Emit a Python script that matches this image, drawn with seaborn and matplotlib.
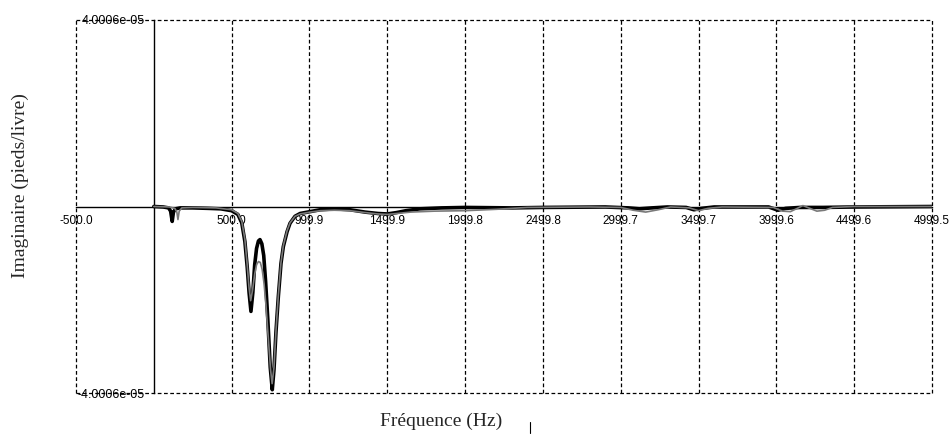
import matplotlib
matplotlib.use("Agg")
import matplotlib.pyplot as plt
import pandas as pd
import seaborn as sns
from matplotlib.lines import Line2D

# Imaginary part of the frequency response, measured curve (Hz, ft/lb)
freq_a = [0, 60, 95, 108, 118, 126, 140, 170, 250, 350, 430, 500, 540, 565,
          585, 600, 612, 624, 636, 648, 660, 672, 682, 694, 706, 718, 732,
          748, 761, 772, 785, 800, 817, 832, 856, 875, 907, 940, 1004, 1068,
          1164, 1260, 1357, 1440, 1500, 1560, 1620, 1710, 1850, 2000, 2300,
          2500, 2900, 3050, 3120, 3200, 3300, 3420, 3470, 3520, 3600, 3950,
          4010, 4060, 4150, 4300, 4500, 4999.5]
imag_a = [0, -0.01e-05, -0.03e-05, -0.10e-05, -0.32e-05, -0.12e-05,
          -0.05e-05, -0.03e-05, -0.03e-05, -0.04e-05, -0.05e-05, -0.09e-05,
          -0.17e-05, -0.35e-05, -0.75e-05, -1.30e-05, -1.85e-05, -2.25e-05,
          -1.85e-05, -1.25e-05, -0.90e-05, -0.74e-05, -0.71e-05, -0.80e-05,
          -1.05e-05, -1.60e-05, -2.40e-05, -3.45e-05, -3.93e-05, -3.50e-05,
          -2.68e-05, -1.93e-05, -1.22e-05, -0.86e-05, -0.54e-05, -0.36e-05,
          -0.21e-05, -0.15e-05, -0.11e-05, -0.07e-05, -0.05e-05, -0.07e-05,
          -0.12e-05, -0.15e-05, -0.16e-05, -0.13e-05, -0.09e-05, -0.05e-05,
          -0.03e-05, -0.02e-05, -0.03e-05, -0.02e-05, -0.01e-05, -0.03e-05,
          -0.05e-05, -0.03e-05, -0.01e-05, -0.02e-05, -0.07e-05, -0.04e-05,
          -0.01e-05, -0.01e-05, -0.08e-05, -0.04e-05, -0.02e-05, -0.02e-05,
          -0.01e-05, 0]

# Imaginary part, second (synthesised) curve
freq_b = [0, 100, 135, 148, 155, 163, 180, 250, 400, 500, 540, 565, 585, 600,
          612, 622, 634, 648, 660, 672, 684, 696, 708, 720, 735, 750, 760,
          772, 785, 800, 817, 832, 856, 875, 907, 940, 1004, 1070, 1160, 1260,
          1357, 1440, 1500, 1560, 1650, 1800, 2000, 2200, 2400, 2800, 3000,
          3080, 3160, 3240, 3320, 3440, 3500, 3560, 3650, 3980, 4040, 4090,
          4140, 4170, 4200, 4260, 4310, 4360, 4500, 4999.5]
imag_b = [0, -0.01e-05, -0.04e-05, -0.12e-05, -0.28e-05, -0.10e-05,
          -0.03e-05, -0.02e-05, -0.03e-05, -0.07e-05, -0.15e-05, -0.32e-05,
          -0.70e-05, -1.25e-05, -1.75e-05, -2.02e-05, -1.80e-05, -1.45e-05,
          -1.25e-05, -1.18e-05, -1.20e-05, -1.35e-05, -1.65e-05, -2.10e-05,
          -2.80e-05, -3.50e-05, -3.80e-05, -3.45e-05, -2.65e-05, -1.90e-05,
          -1.20e-05, -0.84e-05, -0.52e-05, -0.35e-05, -0.21e-05, -0.16e-05,
          -0.12e-05, -0.09e-05, -0.08e-05, -0.09e-05, -0.13e-05, -0.16e-05,
          -0.17e-05, -0.15e-05, -0.12e-05, -0.10e-05, -0.09e-05, -0.06e-05,
          -0.02e-05, -0.01e-05, -0.02e-05, -0.08e-05, -0.12e-05, -0.07e-05,
          -0.01e-05, -0.03e-05, -0.09e-05, -0.04e-05, -0.01e-05, -0.02e-05,
          -0.10e-05, -0.11e-05, -0.03e-05, 0.02e-05, -0.02e-05, -0.10e-05,
          -0.08e-05, -0.02e-05, 0, 0]

x_ticks = [-500.0, 500.0, 999.9, 1499.9, 1999.8, 2499.8, 2999.7, 3499.7,
           3999.6, 4499.6, 4999.5]
x_tick_labels = ["-500.0", "500.0", "999.9", "1499.9", "1999.8", "2499.8",
                 "2999.7", "3499.7", "3999.6", "4499.6", "4999.5"]
y_ticks = [-4.0006e-05, 4.0006e-05]
y_tick_labels = ["-4.0006e-05", "4.0006e-05"]

sns.set_style("white")
plt.rcParams["font.family"] = ["Liberation Sans", "DejaVu Sans"]

W, H = 953, 438
fig = plt.figure(figsize=(W / 100, H / 100), dpi=100)
ax = fig.add_axes([76 / W, 1 - 393 / H, (932 - 76) / W, (393 - 20) / H])

df_a = pd.DataFrame({"freq": freq_a, "imag": imag_a})
df_b = pd.DataFrame({"freq": freq_b, "imag": imag_b})
sns.lineplot(data=df_a, x="freq", y="imag", ax=ax, color="black",
             linewidth=2.6, zorder=3)
sns.lineplot(data=df_b, x="freq", y="imag", ax=ax, color="#7a7a7a",
             linewidth=1.2, zorder=4)

ax.set_xlim(-500, 4999.5)
ax.set_ylim(-4.0006e-05, 4.0006e-05)

# axes cross at the origin, frame drawn by the dashed grid
ax.spines["left"].set_position(("data", 0))
ax.spines["bottom"].set_position(("data", 0))
for side in ("top", "right"):
    ax.spines[side].set_visible(False)
for side in ("left", "bottom"):
    ax.spines[side].set_color("black")
    ax.spines[side].set_linewidth(1.0)
    ax.spines[side].set_zorder(2)

ax.set_xticks(x_ticks, x_tick_labels)
ax.set_yticks(y_ticks, y_tick_labels)
ax.tick_params(axis="x", direction="inout", length=6, width=1, colors="black",
               labelsize=8.5, pad=3)
ax.tick_params(axis="y", direction="out", length=6.5, width=1, colors="black",
               labelsize=9, pad=0)
ax.grid(True, color="black", linestyle=(0, (3, 2)), linewidth=0.9)
for gl in ax.get_xgridlines() + ax.get_ygridlines():
    gl.set_clip_on(False)
ax.set_xlabel("")
ax.set_ylabel("")

fig.text(441 / W, 1 - 421 / H, "Fréquence (Hz)", family="Liberation Serif",
         size=14, ha="center", va="center")
fig.text(20 / W, 1 - 186 / H, "Imaginaire (pieds/livre)",
         family="Liberation Serif", size=14, rotation=90,
         ha="center", va="center")
fig.add_artist(Line2D([530 / W, 530 / W], [1 - 422 / H, 1 - 433 / H],
                      color="black", linewidth=0.8))

fig.savefig("out.png", dpi=100)
